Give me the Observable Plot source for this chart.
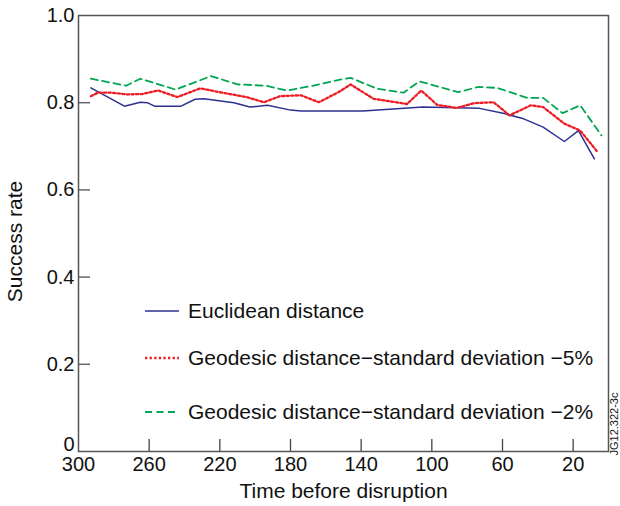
<!DOCTYPE html>
<html><head><meta charset="utf-8">
<script src="https://cdn.jsdelivr.net/npm/d3@7"></script>
<script src="https://cdn.jsdelivr.net/npm/@observablehq/plot@0.6"></script>
<style>
body{margin:0;background:#fff;font-family:"Liberation Sans",Arial,Helvetica,sans-serif;}
#wrap{position:relative;width:620px;height:506px;}
#legend{position:absolute;left:0;top:0;pointer-events:none;}
</style></head><body><div id="wrap"></div>
<script>
// Time before disruption (x) and success rate (y)
const euclidT = [293, 274, 265, 261, 257, 242, 234, 229, 212, 203, 193, 180, 174, 152, 139, 105, 73, 59, 48, 37, 25, 17, 8];
const euclidV = [0.834, 0.792, 0.801, 0.800, 0.792, 0.792, 0.808, 0.809, 0.800, 0.790, 0.794, 0.783, 0.781, 0.781, 0.781, 0.790, 0.787, 0.775, 0.763, 0.744, 0.711, 0.736, 0.671];

const geo5T = [293, 289, 282, 272, 264, 255, 244, 231, 220, 205, 195, 186, 174, 164, 152, 146, 133, 114, 106, 97, 86, 76, 65, 56, 44, 37, 25, 16, 6];
const geo5V = [0.815, 0.823, 0.823, 0.819, 0.820, 0.828, 0.813, 0.833, 0.824, 0.813, 0.801, 0.815, 0.817, 0.801, 0.826, 0.842, 0.809, 0.797, 0.828, 0.795, 0.788, 0.799, 0.801, 0.771, 0.794, 0.790, 0.752, 0.736, 0.686];

const geo2T = [293, 273, 265, 245, 225, 210, 194, 182, 167, 152, 146, 131, 116, 107, 85, 74, 63, 46, 37, 26, 16, 4];
const geo2V = [0.855, 0.839, 0.855, 0.830, 0.861, 0.842, 0.839, 0.828, 0.839, 0.853, 0.857, 0.832, 0.823, 0.849, 0.824, 0.836, 0.834, 0.811, 0.811, 0.776, 0.794, 0.725];

const xTicks = [300, 260, 220, 180, 140, 100, 60, 20];
const yTicks = [0, 0.2, 0.4, 0.6, 0.8, 1.0];
const seriesNames = ["Euclidean distance", "Geodesic distance\u2212standard deviation \u22125%", "Geodesic distance\u2212standard deviation \u22122%"];
const xLabel = "Time before disruption";
const yLabel = "Success rate";
const tag = "JG12.322-3c";

const toRows = (T, V) => T.map((t, i) => ({t, v: V[i]}));
const euclid = toRows(euclidT, euclidV);
const geo5 = toRows(geo5T, geo5V);
const geo2 = toRows(geo2T, geo2V);

const FONT = '"Liberation Sans", Arial, Helvetica, sans-serif';
const cBlue = "#2e3192", cRed = "#ed1c24", cGreen = "#00a651";
const dotDash = "2.3,2.3", dashDash = "7,4.5";
const fmtY = d => d === 0 ? "0" : d.toFixed(1);

const chart = Plot.plot({
  width: 620, height: 506,
  marginLeft: 78, marginRight: 12, marginTop: 15, marginBottom: 55,
  style: {fontFamily: FONT, fontSize: "20px", color: "#111", background: "white"},
  x: {domain: [300, 0]},
  y: {domain: [0, 1]},
  marks: [
    Plot.tickY(yTicks.slice(1, -1), {y: d => d, insetRight: 518, stroke: "#666", strokeWidth: 1.5}),
    Plot.tickX(xTicks.slice(1), {x: d => d, insetTop: 424, stroke: "#444", strokeWidth: 1.3}),
    Plot.frame({stroke: "#555", strokeWidth: 1.5}),
    Plot.axisY(yTicks.slice(1), {tickSize: 0, tickPadding: 4, label: null, fontSize: 20, tickFormat: fmtY}),
    Plot.axisY(yTicks.slice(0, 1), {tickSize: 0, tickPadding: 4, label: null, fontSize: 20, tickFormat: fmtY, dy: -7}),
    Plot.axisX(xTicks, {tickSize: 0, tickPadding: 5, label: null, fontSize: 20}),
    Plot.line(euclid, {x: "t", y: "v", stroke: cBlue, strokeWidth: 1.5}),
    Plot.line(geo5, {x: "t", y: "v", stroke: cRed, strokeWidth: 2.3, strokeDasharray: dotDash}),
    Plot.line(geo2, {x: "t", y: "v", stroke: cGreen, strokeWidth: 1.8, strokeDasharray: dashDash}),
    Plot.text([yLabel], {text: d => d, frameAnchor: "left", rotate: -90, textAnchor: "middle", lineAnchor: "middle", dx: -63, dy: 8, fontSize: 21, fill: "#111"}),
    Plot.text([xLabel], {text: d => d, frameAnchor: "bottom", textAnchor: "middle", lineAnchor: "middle", dy: 40, fontSize: 21, fill: "#111"}),
    Plot.text([tag], {text: d => d, frameAnchor: "bottom-right", rotate: -90, textAnchor: "start", lineAnchor: "middle", dx: 5.5, dy: 4, fontSize: 11, fill: "#111"})
  ]
});
const wrap = document.getElementById("wrap");
wrap.appendChild(chart);

// Legend overlay
const legendStyles = [
  {stroke: cBlue, width: 1.5, dash: null},
  {stroke: cRed, width: 2.3, dash: dotDash},
  {stroke: cGreen, width: 1.8, dash: dashDash}
];
const legendY = [311, 358, 412];
const svg = d3.create("svg").attr("id", "legend").attr("width", 620).attr("height", 506);
seriesNames.forEach((name, i) => {
  const g = svg.append("g").attr("transform", `translate(145,${legendY[i]})`);
  const ln = g.append("line").attr("x1", 0).attr("x2", 34).attr("y1", 0).attr("y2", 0)
    .attr("stroke", legendStyles[i].stroke).attr("stroke-width", legendStyles[i].width);
  if (legendStyles[i].dash) ln.attr("stroke-dasharray", legendStyles[i].dash);
  g.append("text").attr("x", 43).attr("y", 0).attr("dy", "0.35em")
    .attr("font-family", FONT).attr("font-size", 21).attr("fill", "#111").text(name);
});
wrap.appendChild(svg.node());
</script>
</body></html>
